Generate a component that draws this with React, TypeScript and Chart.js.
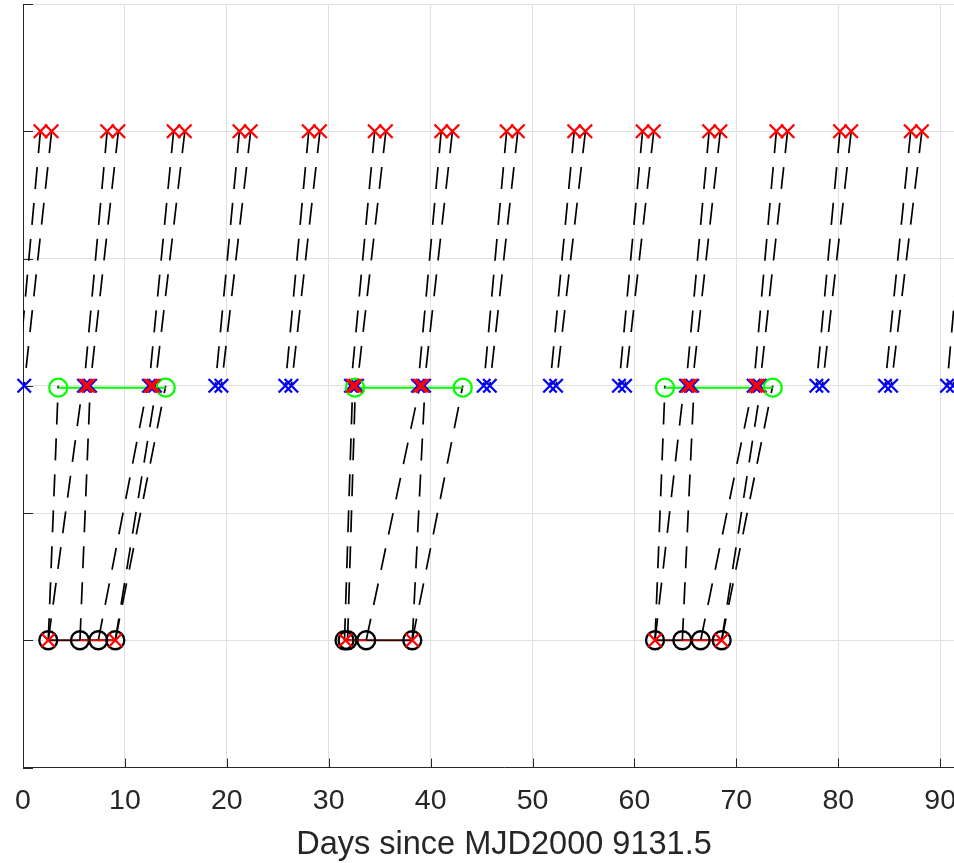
import React, { useEffect, useRef } from 'react';
import { Chart, registerables } from 'chart.js';

Chart.register(...registerables);

// ---- data ----
const xTicks = [0, 10, 20, 30, 40, 50, 60, 70, 80, 90];
const yTicks = [0, 1, 2, 3, 4, 5, 6];
const X_MAX = 94.4;
const xTitle = 'Days since MJD2000 9131.5';

const LEVEL_TOP = 5;
const LEVEL_MID = 3;
const LEVEL_GREEN = 2.985;
const LEVEL_BOT = 1;

// red crosses on the top row
const topRedX = [
  1.71, 2.81, 8.26, 9.36, 14.78, 15.88, 21.24, 22.34, 28.04, 29.14,
  34.51, 35.61, 41.04, 42.14, 47.46, 48.56, 54.09, 55.19, 60.8, 61.9,
  67.33, 68.43, 73.93, 75.03, 80.17, 81.27, 87.11, 88.21, 92.85, 93.95,
];

// blue crosses on the middle row
const midBlueX = [
  0.12, 5.98, 6.58, 12.36, 12.96, 18.87, 19.47, 25.74, 26.34, 32.18, 32.78,
  38.76, 39.36, 45.21, 45.81, 51.71, 52.31, 58.48, 59.08, 65.06, 65.66,
  71.7, 72.3, 77.85, 78.45, 84.59, 85.19, 90.67, 91.27,
];

// red crosses on the middle row
const midRedX = [6.16, 6.4, 12.54, 12.78, 32.36, 32.6, 38.94, 39.18, 65.24, 65.48, 71.88, 72.12];

// green circles on the middle row and the segments joining them
const greenCircleX = [3.46, 14.0, 32.58, 43.15, 63.0, 73.57];
const greenSpans = [
  [3.46, 14.0],
  [32.58, 43.15],
  [63.0, 73.57],
];

// black circles and red crosses on the bottom row
const bottomCircleX = [2.48, 5.59, 7.39, 9.06, 31.55, 31.85, 33.68, 38.2, 62.02, 64.7, 66.5, 68.56];
const bottomRedX = [2.48, 9.06, 31.65, 38.2, 62.02, 68.56];
const bottomSpans = [
  [2.48, 9.06],
  [31.55, 38.2],
  [62.02, 68.56],
];
const bottomRedSpans = [
  [5.59, 9.06],
  [31.55, 33.68],
  [64.7, 68.56],
];

// dashed links: [x on top row, x on middle row]
const upperLinks = [
  [1.71, -0.55], [2.81, 0.12],
  [8.26, 5.98], [9.36, 6.58],
  [14.78, 12.36], [15.88, 12.96],
  [21.24, 18.87], [22.34, 19.47],
  [28.04, 25.74], [29.14, 26.34],
  [34.51, 32.18], [35.61, 32.78],
  [41.04, 38.76], [42.14, 39.36],
  [47.46, 45.21], [48.56, 45.81],
  [54.09, 51.71], [55.19, 52.31],
  [60.8, 58.48], [61.9, 59.08],
  [67.33, 65.06], [68.43, 65.66],
  [73.93, 71.7], [75.03, 72.3],
  [80.17, 77.85], [81.27, 78.45],
  [87.11, 84.59], [88.21, 85.19],
  [92.85, 90.67], [93.95, 91.27],
];

// dashed links: [x on middle row, x on bottom row]
const lowerLinks = [
  [3.46, 2.48], [5.86, 2.48], [6.6, 5.59], [12.24, 7.39], [13.1, 9.06], [14.0, 9.06],
  [32.35, 31.55], [32.62, 31.85], [38.95, 33.68], [39.45, 38.2], [43.15, 38.2],
  [63.0, 62.02], [64.87, 62.02], [65.85, 64.7], [71.64, 66.5], [72.42, 68.56], [73.57, 68.56],
];

const AXIS_COLOR = '#262626';
const GRID_COLOR = '#e0e0e0';
const FONT_FAMILY = "'Liberation Sans', Arial, Helvetica, sans-serif";

const innerTicks = {
  id: 'innerTicks',
  beforeDatasetsDraw(chart: any) {
    const { ctx, chartArea, scales } = chart;
    const xs = scales.x;
    const ys = scales.y;
    ctx.save();
    ctx.strokeStyle = AXIS_COLOR;
    ctx.lineWidth = 1;
    ctx.beginPath();
    for (const v of yTicks) {
      const py = Math.round(ys.getPixelForValue(v)) + 0.5;
      ctx.moveTo(chartArea.left, py);
      ctx.lineTo(chartArea.left + 10, py);
    }
    for (const v of xTicks) {
      const px = Math.round(xs.getPixelForValue(v)) + 0.5;
      ctx.moveTo(px, chartArea.bottom);
      ctx.lineTo(px, chartArea.bottom - 9);
    }
    ctx.stroke();
    ctx.restore();
  },
};

function lineDs(points: { x: number; y: number }[], color: string, width: number, order: number, dash?: number[]) {
  return {
    data: points,
    showLine: true,
    borderColor: color,
    borderWidth: width,
    borderDash: dash || [],
    pointRadius: 0,
    pointHoverRadius: 0,
    order,
  };
}

function markerDs(xs: number[], y: number, style: string, color: string, radius: number, width: number, order: number) {
  return {
    data: xs.map((x) => ({ x, y })),
    showLine: false,
    pointStyle: style,
    pointRadius: radius,
    pointHoverRadius: radius,
    pointBorderColor: color,
    pointBackgroundColor: 'rgba(0,0,0,0)',
    pointBorderWidth: width,
    clip: false,
    order,
  };
}

export default function App() {
  const ref = useRef<HTMLCanvasElement | null>(null);

  useEffect(() => {
    if (!ref.current) return;
    const datasets: any[] = [];

    for (const [a, b] of upperLinks) {
      datasets.push(lineDs([{ x: a, y: LEVEL_TOP }, { x: b, y: LEVEL_MID }], '#000000', 1.7, 50, [22, 14]));
    }
    for (const [a, b] of lowerLinks) {
      datasets.push(lineDs([{ x: b, y: LEVEL_BOT }, { x: a, y: LEVEL_MID }], '#000000', 1.7, 50, [22, 14]));
    }
    for (const [a, b] of greenSpans) {
      datasets.push(lineDs([{ x: a, y: LEVEL_GREEN }, { x: b, y: LEVEL_GREEN }], '#00ff00', 2, 40));
    }
    for (const [a, b] of bottomSpans) {
      datasets.push(lineDs([{ x: a, y: LEVEL_BOT }, { x: b, y: LEVEL_BOT }], '#3d0000', 2, 41));
    }
    for (const [a, b] of bottomRedSpans) {
      datasets.push(lineDs([{ x: a, y: LEVEL_BOT }, { x: b, y: LEVEL_BOT }], '#ff0000', 1.5, 40));
    }

    datasets.push(markerDs(midBlueX, LEVEL_MID, 'crossRot', '#0000ff', 9.5, 2.3, 30));
    datasets.push(markerDs(greenCircleX, LEVEL_GREEN, 'circle', '#00ff00', 9, 2.3, 25));
    datasets.push(markerDs(midRedX, LEVEL_MID, 'crossRot', '#ff0000', 9.5, 2.3, 20));
    datasets.push(markerDs(bottomCircleX, LEVEL_BOT, 'circle', '#000000', 9, 2.3, 15));
    datasets.push(markerDs(bottomRedX, LEVEL_BOT, 'crossRot', '#ff0000', 9.5, 2.3, 10));
    datasets.push(markerDs(topRedX, LEVEL_TOP, 'crossRot', '#ff0000', 9.5, 2.3, 10));

    const chart = new Chart(ref.current, {
      type: 'scatter',
      data: { datasets },
      plugins: [innerTicks],
      options: {
        responsive: false,
        animation: false,
        events: [],
        devicePixelRatio: 1,
        layout: { autoPadding: false, padding: { top: 4, left: 0, right: 0, bottom: 0 } },
        plugins: {
          legend: { display: false },
          tooltip: { enabled: false },
        },
        scales: {
          x: {
            type: 'linear',
            min: 0,
            max: X_MAX,
            afterBuildTicks: (s: any) => {
              s.ticks = xTicks.map((v) => ({ value: v }));
            },
            afterFit: (s: any) => {
              s.height = 95.5;
              s.paddingLeft = 0;
              s.paddingRight = 0;
            },
            ticks: {
              autoSkip: false,
              maxRotation: 0,
              minRotation: 0,
              padding: 19.5,
              color: AXIS_COLOR,
              font: { family: FONT_FAMILY, size: 28.5, lineHeight: 1 },
            },
            grid: { color: GRID_COLOR, lineWidth: 1, drawTicks: false },
            border: { display: true, color: AXIS_COLOR, width: 1 },
            title: {
              display: true,
              text: xTitle,
              color: AXIS_COLOR,
              font: { family: FONT_FAMILY, size: 32.5, lineHeight: 1 },
              padding: { top: 0, bottom: 1.75 },
            },
          },
          y: {
            type: 'linear',
            min: 0,
            max: 6,
            afterBuildTicks: (s: any) => {
              s.ticks = yTicks.map((v) => ({ value: v }));
            },
            afterFit: (s: any) => {
              s.width = 23;
              s.paddingTop = 0;
              s.paddingBottom = 0;
            },
            ticks: { display: false },
            grid: { color: GRID_COLOR, lineWidth: 1, drawTicks: false },
            border: { display: true, color: AXIS_COLOR, width: 1 },
          },
        },
      } as any,
    });

    return () => chart.destroy();
  }, []);

  return (
    <div
      style={{
        position: 'absolute',
        left: 0,
        top: 0,
        width: 954,
        height: 863,
        overflow: 'hidden',
        background: '#ffffff',
      }}
    >
      <canvas ref={ref} width={985} height={863} style={{ display: 'block' }} />
    </div>
  );
}
